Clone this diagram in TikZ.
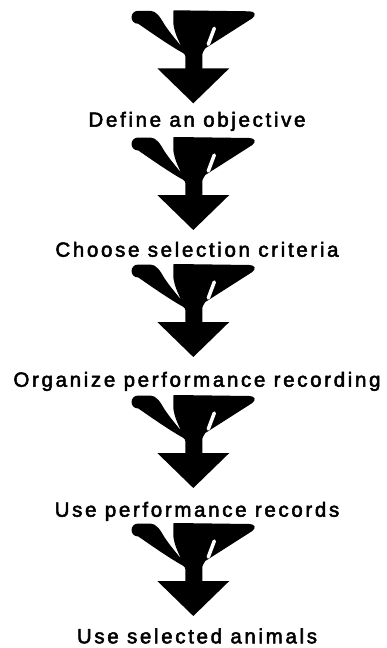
\documentclass[tikz,border=0pt]{standalone}
\usepackage{fontspec}
\newfontfamily\labelfont{Liberation Sans}[LetterSpace=13,FakeBold=2.5]

\tikzset{
  % goblet-shaped down arrow; origin at the arrow tip
  goblet/.pic={
    \fill[black]
      (-8,-34) -- (-8,-47)
      .. controls (-8,-50) and (-12,-51) .. (-15,-53)
      .. controls (-30,-62) and (-44,-72) .. (-55,-79.5)
      .. controls (-64,-79.5) and (-64,-92.5) .. (-55,-92.5)
      -- (-43,-92.5)
      .. controls (-37,-92.5) and (-33,-86) .. (-29,-79)
      .. controls (-23,-70) and (-16,-62) .. (-12,-57)
      .. controls (-15,-63) and (-19,-71) .. (-20,-80)
      -- (-20,-91) .. controls (-20,-93) .. (-18,-93)
      -- (56,-92)
      .. controls (62,-92) and (63,-88) .. (59,-85)
      -- (12,-55)
      .. controls (10,-52) and (9,-51) .. (9,-47)
      -- (9,-34) -- cycle;
    \fill[black] (-36,-35) -- (36,-35) -- (0,0) -- cycle;
    \draw[white, line width=3.5pt, line cap=round] (21,-75) -- (15,-59);
  },
  steplabel/.style={font=\labelfont\fontsize{20.5}{24}\selectfont,
    anchor=base, inner sep=0pt, text=black}
}

\begin{document}
\begin{tikzpicture}[x=1pt,y=-1pt]
  \fill[white] (0,0) rectangle (387,648);
  \useasboundingbox (0,0) rectangle (387,648);

  \pic at (193.3,103.3) {goblet};
  \node[steplabel] (s1) at (197,126.7) {Define an objective};

  \pic at (193.3,230) {goblet};
  \node[steplabel] (s2) at (197,256.7) {Choose selection criteria};

  \pic at (193.3,357) {goblet};
  \node[steplabel] (s3) at (197,386.7) {Organize performance recording};

  \pic at (193.3,488) {goblet};
  \node[steplabel] (s4) at (197,516.7) {Use performance records};

  \pic at (193.3,616) {goblet};
  \node[steplabel] (s5) at (197,643.3) {Use selected animals};
\end{tikzpicture}
\end{document}
